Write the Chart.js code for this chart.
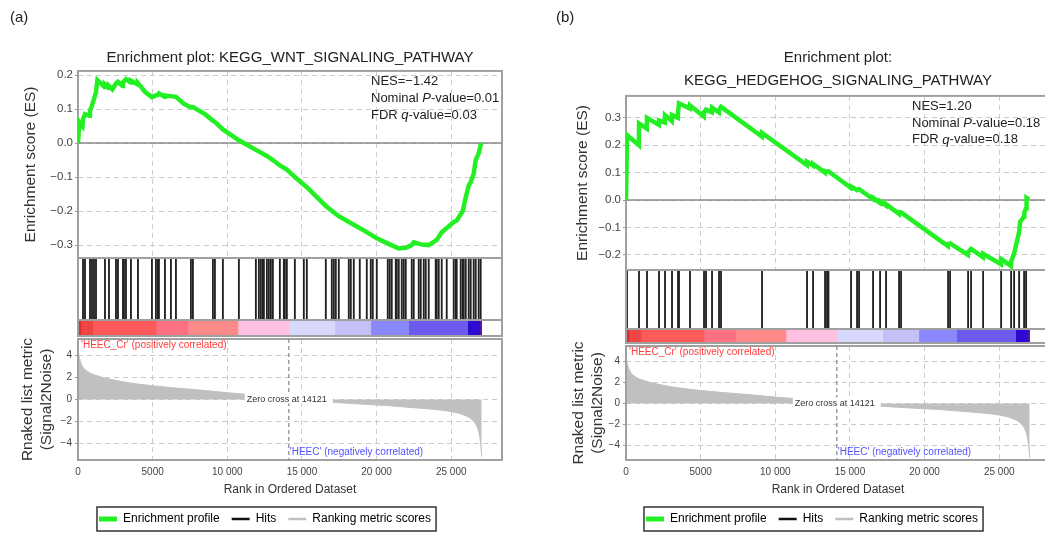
<!DOCTYPE html>
<html>
<head>
<meta charset="utf-8">
<title>GSEA enrichment plots</title>
<script src="https://cdn.jsdelivr.net/npm/chart.js@4.4.1/dist/chart.umd.min.js"></script>
<style>
  html, body { margin: 0; padding: 0; background: #fff; }
  #page { position: relative; width: 1045px; height: 534px; overflow: hidden; background: #fff; }
  #page canvas { position: absolute; }
</style>
</head>
<body>
<div id="page">
  <canvas id="esA" width="530" height="272" style="left:0;top:0"></canvas>
  <canvas id="hitsA" width="530" height="80" style="left:0;top:250px"></canvas>
  <canvas id="barA" width="530" height="30" style="left:0;top:314px"></canvas>
  <canvas id="rankA" width="530" height="205" style="left:0;top:330px"></canvas>
  <canvas id="esB" width="544" height="284" style="left:540px;top:0"></canvas>
  <canvas id="hitsB" width="544" height="76" style="left:540px;top:262px"></canvas>
  <canvas id="barB" width="544" height="28" style="left:540px;top:323px"></canvas>
  <canvas id="rankB" width="544" height="198" style="left:540px;top:337px"></canvas>
</div>
<script>
// ---- shared ranked list (both panels use the same ordered dataset) ----
const rankTicks = [0, 5000, 10000, 15000, 20000, 25000];
const rankMax = 28400;
const zeroCross = 14121;
const metricTicks = [4, 2, 0, -2, -4];
const metricRank = [0, 60, 150, 300, 500, 800, 1200, 1800, 2500, 3500, 5000, 6500, 8000, 10000, 12000, 13000, 14121,
  15500, 17000, 19000, 21000, 23000, 24500, 25500, 26000, 26400, 26700, 26850, 26950, 27010, 27040];
const metricValue = [4.6, 4.0, 3.5, 3.0, 2.7, 2.4, 2.2, 1.95, 1.75, 1.5, 1.25, 1.05, 0.88, 0.62, 0.38, 0.22, 0.0,
  -0.12, -0.25, -0.42, -0.58, -0.8, -1.0, -1.25, -1.5, -1.85, -2.4, -3.0, -3.8, -4.6, -5.2];
const colorStops = [0, 200, 1000, 5220, 7360, 10710, 14120, 17200, 19610, 22150, 26100, 26900, 27040];
const colorList = ['#e42a2a', '#ef4545', '#ff5a5a', '#ff7080', '#ff8a8a', '#ffc0e2',
  '#d8d8fc', '#c6c0f8', '#8a88fc', '#6c5aec', '#2e0ad0', '#4c1aa8'];
const posLabel = "'HEEC_Cr' (positively correlated)";
const negLabel = "'HEEC' (negatively correlated)";
const legendNames = ['Enrichment profile', 'Hits', 'Ranking metric scores'];

// ---- (a) KEGG_WNT_SIGNALING_PATHWAY ----
const titleA = 'Enrichment plot: KEGG_WNT_SIGNALING_PATHWAY';
const esTicksA = [0.2, 0.1, 0, -0.1, -0.2, -0.3];
const esRankA = [0, 90, 300, 335, 470, 760, 803, 937, 1071, 1205, 1300, 1780, 1807, 2050, 2075, 2300, 2543, 2677,
  2990, 3012, 3079, 3213, 3530, 3547, 4000, 4016, 4500, 4953, 5220, 5354, 5421, 5800, 5823, 6224, 6559, 7100,
  7563, 7697, 8500, 9036, 9170, 9705, 10776, 11914, 12650, 13052, 13521, 13989, 14525, 15327, 16599, 17469,
  18473, 19343, 20012, 20882, 21485, 21953, 22355, 22488, 22957, 23492, 24028, 24363, 24697, 25166, 25366,
  25768, 25969, 26170, 26303, 26504, 26638, 26839, 26973, 27040];
const esScoreA = [0, 0.062, 0.05, 0.07, 0.085, 0.08, 0.095, 0.11, 0.13, 0.15, 0.185, 0.165, 0.172, 0.162, 0.168,
  0.158, 0.175, 0.18, 0.168, 0.178, 0.182, 0.188, 0.178, 0.183, 0.172, 0.176, 0.15, 0.135, 0.14, 0.142, 0.146,
  0.136, 0.14, 0.138, 0.136, 0.115, 0.105, 0.106, 0.085, 0.066, 0.062, 0.04, 0.008, -0.02, -0.038, -0.05,
  -0.066, -0.078, -0.1, -0.13, -0.185, -0.215, -0.24, -0.262, -0.28, -0.298, -0.31, -0.308, -0.3, -0.292,
  -0.298, -0.3, -0.285, -0.262, -0.25, -0.232, -0.228, -0.2, -0.16, -0.125, -0.115, -0.09, -0.05, -0.03,
  -0.005, 0];
const hitsA = [335, 469, 803, 937, 1071, 1205, 1807, 2075, 2543, 2677, 3012, 3079, 3213, 3547, 4016, 4953, 5220,
  5354, 5421, 5823, 6224, 6559, 7563, 7697, 9036, 9170, 9705, 10776, 11914, 12115, 12249, 12383, 12450, 12651,
  12784, 12918, 13052, 13521, 13788, 13855, 13989, 14525, 15126, 15327, 16599, 17000, 17134, 17268, 17469,
  18138, 18272, 18473, 18874, 19343, 19610, 19744, 20012, 20748, 20882, 21016, 21284, 21351, 21485, 21685,
  21819, 21953, 22355, 22488, 22823, 22957, 23158, 23292, 23492, 23961, 24028, 24162, 24363, 24697, 25166,
  25300, 25366, 25634, 25768, 25835, 25969, 26170, 26303, 26504, 26638, 26839, 26973];
const statsA = { nes: '\u22121.42', p: '0.01', q: '0.03' };

// ---- (b) KEGG_HEDGEHOG_SIGNALING_PATHWAY ----
const titleB = ['Enrichment plot:', 'KEGG_HEDGEHOG_SIGNALING_PATHWAY'];
const esTicksB = [0.3, 0.2, 0.1, 0, -0.1, -0.2];
const esRankB = [0, 67, 860, 871, 1395, 1407, 2200, 2211, 2600, 2613, 3070, 3082, 3470, 3484, 3551, 4275, 4288,
  5215, 5226, 5360, 5750, 5762, 6220, 6231, 6365, 9100, 9112, 12115, 12127, 12520, 12529, 13320, 13333, 13467,
  13560, 15060, 15075, 15477, 15611, 16540, 16549, 17010, 17018, 17410, 17420, 18280, 18291, 18425, 21560,
  21574, 21708, 22900, 22914, 23115, 23905, 23919, 25110, 25125, 25780, 25795, 25996, 26331, 26400, 26666,
  26680, 26800, 26830, 27000];
const esScoreB = [0, 0.237, 0.2, 0.28, 0.261, 0.3, 0.274, 0.29, 0.283, 0.31, 0.288, 0.31, 0.3, 0.32, 0.353, 0.334,
  0.345, 0.305, 0.32, 0.33, 0.32, 0.337, 0.32, 0.328, 0.34, 0.232, 0.245, 0.128, 0.14, 0.126, 0.132, 0.1,
  0.106, 0.104, 0.105, 0.045, 0.05, 0.036, 0.04, 0.004, 0.008, -0.01, -0.005, -0.02, -0.015, -0.05, -0.044,
  -0.045, -0.168, -0.16, -0.158, -0.2, -0.19, -0.178, -0.208, -0.196, -0.234, -0.215, -0.24, -0.225, -0.195,
  -0.116, -0.079, -0.06, -0.045, -0.03, 0.008, 0.002];
const hitsB = [67, 871, 1407, 2211, 2613, 3082, 3484, 3551, 4288, 5226, 5360, 5762, 6231, 6365, 9112, 12127,
  12529, 13333, 13467, 13560, 15075, 15477, 15611, 16549, 17018, 17420, 18291, 18425, 21574, 21708, 22914,
  23115, 23919, 25125, 25795, 25996, 26331, 26666, 26800];
const statsB = { nes: '1.20', p: '0.18', q: '0.18' };

const fontFamily = '"Liberation Sans", Arial, sans-serif';
Chart.defaults.font.family = fontFamily;
Chart.defaults.color = '#333';
const green = '#22f022';
const gridColor = '#cccccc';

// formatters
const fmtES = v => v === 0 ? '0.0' : (v < 0 ? '\u2212' : '') + Math.abs(v).toFixed(1);
const fmtMetric = v => (v < 0 ? '\u2212' : '') + Math.abs(v);
const fmtRank = v => v < 10000 ? String(v) : Math.floor(v / 1000) + ' ' + String(v % 1000).padStart(3, '0');

// gray box round each plot area
function drawFrame(chart) {
  const a = chart.chartArea, c = chart.ctx;
  c.save();
  c.strokeStyle = '#a0a0a0';
  c.lineWidth = 2;
  c.strokeRect(a.left, a.top, a.right - a.left, a.bottom - a.top);
  c.restore();
}
const framePlugin = {
  id: 'frame',
  beforeDatasetsDraw(chart, args, o) { if (!o.over) drawFrame(chart); },
  afterDatasetsDraw(chart, args, o) { if (o.over) drawFrame(chart); }
};

const zeroLinePlugin = {
  id: 'zeroLine',
  beforeDatasetsDraw(chart) {
    const {ctx, chartArea: a, scales: {y}} = chart;
    const py = y.getPixelForValue(0);
    ctx.save();
    ctx.strokeStyle = '#8a8a8a';
    ctx.lineWidth = 1.5;
    ctx.beginPath();
    ctx.moveTo(a.left, py);
    ctx.lineTo(a.right, py);
    ctx.stroke();
    ctx.restore();
  }
};

// NES / P / q text, italic for the P and q
const statsPlugin = {
  id: 'stats',
  afterDatasetsDraw(chart, args, o) {
    const {ctx, chartArea: a} = chart;
    const lines = [['NES=' + o.nes], ['Nominal ', 'P', '-value=' + o.p], ['FDR ', 'q', '-value=' + o.q]];
    ctx.save();
    ctx.fillStyle = '#222';
    ctx.textBaseline = 'middle';
    ctx.textAlign = 'left';
    lines.forEach((segs, i) => {
      let x = a.left + o.dx;
      const y = a.top + o.dy + i * o.step;
      segs.forEach((s, j) => {
        ctx.font = (j % 2 ? 'italic ' : '') + '13px ' + fontFamily;
        ctx.fillText(s, x, y);
        x += ctx.measureText(s).width;
      });
    });
    ctx.restore();
  }
};

const panelLabelPlugin = {
  id: 'panelLabel',
  afterDraw(chart, args, o) {
    const ctx = chart.ctx;
    ctx.save();
    ctx.font = '15px ' + fontFamily;
    ctx.fillStyle = '#222';
    ctx.textBaseline = 'middle';
    ctx.fillText(o.text, o.x, o.y);
    ctx.restore();
  }
};

// zero cross marker, correlation labels and the legend box
const rankNotesPlugin = {
  id: 'rankNotes',
  afterDatasetsDraw(chart) {
    const {ctx, chartArea: a, scales: {x, y}} = chart;
    const zx = x.getPixelForValue(zeroCross), zy = y.getPixelForValue(0);
    ctx.save();
    ctx.strokeStyle = '#858585';
    ctx.lineWidth = 1.2;
    ctx.setLineDash([4, 3]);
    ctx.beginPath();
    ctx.moveTo(zx, a.top);
    ctx.lineTo(zx, a.bottom);
    ctx.stroke();
    ctx.setLineDash([]);

    ctx.font = '9px ' + fontFamily;
    const t = 'Zero cross at ' + zeroCross;
    const w = ctx.measureText(t).width;
    ctx.fillStyle = '#fff';
    ctx.fillRect(zx - w / 2 - 4, zy - 6, w + 8, 10);
    ctx.fillStyle = '#333';
    ctx.textAlign = 'center';
    ctx.textBaseline = 'middle';
    ctx.fillText(t, zx - 2, zy);

    ctx.font = '10px ' + fontFamily;
    ctx.textAlign = 'left';
    ctx.fillStyle = '#ff3c3c';
    ctx.fillText(posLabel, a.left + 3, a.top + 6);
    ctx.fillStyle = '#5252ff';
    ctx.fillText(negLabel, zx + 1, a.bottom - 8);
    ctx.restore();
  },
  afterDraw(chart) {
    const boxes = chart.legend && chart.legend.legendHitBoxes;
    if (!boxes || !boxes.length) return;
    const left = boxes[0].left - 2;
    const last = boxes[boxes.length - 1];
    const right = last.left + last.width + 5;
    const cy = boxes[0].top + boxes[0].height / 2;
    const ctx = chart.ctx;
    ctx.save();
    ctx.strokeStyle = '#333';
    ctx.lineWidth = 1.5;
    ctx.strokeRect(left, cy - 12, right - left, 24);
    ctx.restore();
  }
};

function rankAxis(extra) {
  return Object.assign({
    type: 'linear', min: 0, max: rankMax,
    afterBuildTicks: s => { s.ticks = rankTicks.map(v => ({value: v})); },
    grid: { color: gridColor, drawTicks: false },
    border: { display: false, dash: [5, 4] },
    ticks: { display: false }
  }, extra);
}
function spacer(width) {
  return {
    position: 'right', display: true,
    grid: { display: false }, border: { display: false }, ticks: { display: false },
    afterFit: s => { s.width = width; }
  };
}

function makeES(id, p) {
  return new Chart(document.getElementById(id), {
    type: 'line',
    data: {
      datasets: [{
        data: p.ranks.map((r, i) => ({x: r, y: p.scores[i]})),
        yAxisID: 'y',
        borderColor: green, borderWidth: 4.5, pointRadius: 0, tension: 0, fill: false
      }]
    },
    options: {
      responsive: false, animation: false, events: [],
      layout: { padding: { top: 0, bottom: 14, left: 0, right: 0 } },
      scales: {
        x: rankAxis({ afterFit: s => { s.height = 0; } }),
        y: {
          type: 'linear', min: p.min, max: p.max,
          afterBuildTicks: s => { s.ticks = p.ticks.map(v => ({value: v})); },
          afterFit: s => { s.width = p.left; },
          grid: { color: gridColor, tickLength: 3, tickColor: '#999' },
          border: { display: false, dash: [5, 4] },
          ticks: { font: { size: 11.5 }, color: '#444', padding: 2, callback: fmtES },
          title: { display: true, text: 'Enrichment score (ES)', color: '#333',
                   font: { size: 15.5 }, padding: { top: p.titleX } }
        },
        yR: spacer(p.right)
      },
      plugins: {
        legend: { display: false }, tooltip: { enabled: false },
        title: {
          display: true, text: p.title, fullSize: false, color: '#222',
          font: { size: 15, weight: 'normal', lineHeight: 1.53 },
          padding: { top: 46.5, bottom: p.titleGap }
        },
        frame: { over: false },
        stats: p.stats,
        panelLabel: p.label
      }
    },
    plugins: [framePlugin, zeroLinePlugin, statsPlugin, panelLabelPlugin]
  });
}

function makeHits(id, hits, pad) {
  return new Chart(document.getElementById(id), {
    type: 'bar',
    data: { datasets: [{ data: hits.map(r => ({x: r, y: 1})), backgroundColor: '#222', barThickness: 1.2 }] },
    options: {
      responsive: false, animation: false, events: [],
      layout: { padding: pad },
      scales: {
        x: { type: 'linear', min: 0, max: rankMax, offset: false, grid: { offset: false }, display: false },
        y: { type: 'linear', min: 0, max: 1, display: false }
      },
      plugins: { legend: { display: false }, tooltip: { enabled: false }, frame: { over: true } }
    },
    plugins: [framePlugin]
  });
}

function makeColorBar(id, pad) {
  return new Chart(document.getElementById(id), {
    type: 'bar',
    data: {
      labels: ['rank'],
      datasets: colorList.map((c, i) => ({
        data: [[colorStops[i], colorStops[i + 1]]],
        backgroundColor: c, borderWidth: 0, grouped: false,
        barPercentage: 1, categoryPercentage: 1
      }))
    },
    options: {
      indexAxis: 'y',
      responsive: false, animation: false, events: [],
      layout: { padding: pad },
      scales: {
        x: { type: 'linear', min: 0, max: rankMax, display: false },
        y: { display: false }
      },
      plugins: { legend: { display: false }, tooltip: { enabled: false }, frame: { over: true } }
    },
    plugins: [framePlugin]
  });
}

function makeRank(id, p) {
  return new Chart(document.getElementById(id), {
    type: 'line',
    data: {
      datasets: [{
        data: metricRank.map((r, i) => ({x: r, y: metricValue[i]})),
        yAxisID: 'y',
        borderColor: '#c0c0c0', backgroundColor: '#c0c0c0', borderWidth: 1,
        pointRadius: 0, fill: 'origin', cubicInterpolationMode: 'monotone'
      }]
    },
    options: {
      responsive: false, animation: false, events: [],
      layout: { padding: { top: 6, bottom: 0, left: 0, right: 0 } },
      scales: {
        x: rankAxis({
          afterFit: s => { s.height = 41; },
          ticks: { display: true, font: { size: 10 }, color: '#444', padding: 6,
                   maxRotation: 0, autoSkip: false, callback: fmtRank },
          title: { display: true, text: 'Rank in Ordered Dataset', color: '#333',
                   font: { size: 12 }, padding: { top: 0, bottom: 3.8 } }
        }),
        y: {
          type: 'linear', min: p.min, max: p.max,
          afterBuildTicks: s => { s.ticks = metricTicks.map(v => ({value: v})); },
          afterFit: s => { s.width = p.left; },
          grid: { color: gridColor, tickLength: 3, tickColor: '#999' },
          border: { display: false, dash: [5, 4] },
          ticks: { font: { size: 10 }, color: '#444', padding: 3, callback: fmtMetric },
          title: { display: true, text: ['Rnaked list metric', '(Signal2Noise)'], color: '#333',
                   font: { size: 15.5 }, padding: { top: p.titleX } }
        },
        yR: spacer(p.right)
      },
      plugins: {
        tooltip: { enabled: false },
        frame: { over: true },
        legend: {
          display: true, position: 'bottom',
          labels: {
            color: '#222', font: { size: 12 }, padding: 12,
            usePointStyle: true, pointStyleWidth: 18,
            generateLabels: () => legendNames.map((t, i) => ({
              text: t,
              strokeStyle: [green, '#111', '#c0c0c0'][i],
              fillStyle: [green, '#111', '#c0c0c0'][i],
              lineWidth: [5, 2.5, 2.5][i],
              pointStyle: 'line', hidden: false, datasetIndex: i
            }))
          }
        }
      }
    },
    plugins: [framePlugin, rankNotesPlugin]
  });
}

// ---- panel (a) ----
makeES('esA', {
  ranks: esRankA, scores: esScoreA, ticks: esTicksA, min: -0.338, max: 0.212,
  left: 78, right: 28, titleX: 21.7, title: titleA, titleGap: 1.5,
  stats: Object.assign({ dx: 293, dy: 10, step: 17 }, statsA),
  label: { text: '(a)', x: 10, y: 18 }
});
makeHits('hitsA', hitsA, { top: 8, bottom: 10, left: 78, right: 28 });
makeColorBar('barA', { top: 6, bottom: 8, left: 78, right: 28 });
makeRank('rankA', { min: -5.5, max: 5.5, left: 78, right: 28, titleX: 18.7 });

// ---- panel (b) ----
makeES('esB', {
  ranks: esRankB, scores: esScoreB, ticks: esTicksB, min: -0.255, max: 0.38,
  left: 86, right: 34, titleX: 33.7, title: titleB, titleGap: 3.5,
  stats: Object.assign({ dx: 286, dy: 11, step: 16.5 }, statsB),
  label: { text: '(b)', x: 16, y: 18 }
});
makeHits('hitsB', hitsB, { top: 8, bottom: 9, left: 86, right: 34 });
makeColorBar('barB', { top: 6, bottom: 8, left: 86, right: 34 });
makeRank('rankB', { min: -5.4, max: 5.5, left: 86, right: 34, titleX: 29.7 });
</script>
</body>
</html>
